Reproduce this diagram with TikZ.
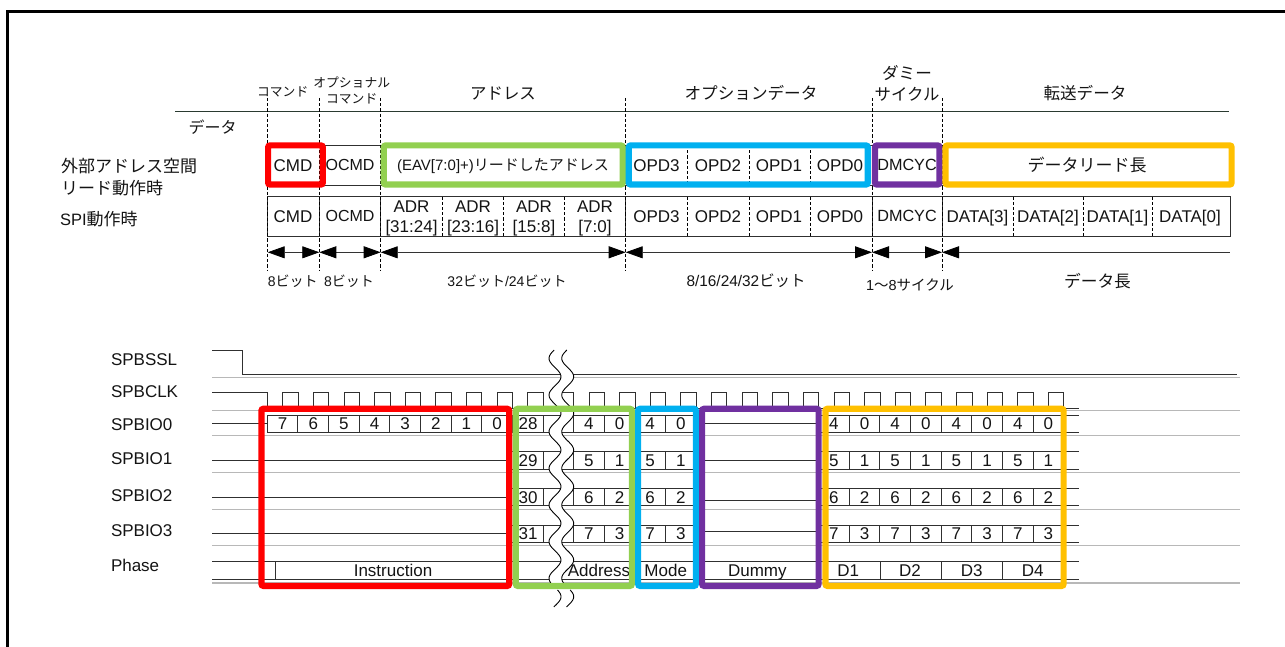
\documentclass[tikz,border=0pt]{standalone}
\usepackage{fontspec}
\setmainfont{Liberation Sans}
\newfontfamily\cjk{Noto Sans CJK JP}
\usetikzlibrary{arrows.meta}
\newcommand{\J}[1]{{\cjk #1}}
\definecolor{cred}{HTML}{FF0000}
\definecolor{cgreen}{HTML}{92D050}
\definecolor{cblue}{HTML}{00B0F0}
\definecolor{cpurple}{HTML}{7030A0}
\definecolor{corange}{HTML}{FFC000}
\definecolor{gridgrey}{HTML}{B8B8B8}
\definecolor{sigline}{HTML}{303030}
\definecolor{toprule}{HTML}{2A3A30}
\tikzset{
  lab/.style={inner sep=0pt,outer sep=0pt,font=\fontsize{#1}{#1}\selectfont,text height=#1*0.72pt,text depth=0pt,text=black!92},
  leftlab/.style={lab=#1,anchor=west},
  frameline/.style={line width=3pt,black},
  sig/.style={line width=0.9pt,sigline},
  grid/.style={line width=1.1pt,gridgrey},
  dashv/.style={line width=1pt,black,dash pattern=on 3.2pt off 2pt},
  dim/.style={line width=0.8pt,black!80,{Triangle[length=17pt,width=12pt,black]}-{Triangle[length=17pt,width=12pt,black]}},
  dimopen/.style={line width=0.8pt,black!80,{Triangle[length=17pt,width=12pt,black]}-},
  hl/.style={line width=6.2pt,rounded corners=2pt,draw=#1},
  wave/.style={line width=0.9pt,black}
}
\pgfmathsetmacro{\xo}{267.3}
\pgfmathsetmacro{\pp}{30.63}
\newcommand{\cellx}[1]{\xo+\pp*#1}
\newcommand{\iocells}[2]{%
  \draw[sig] (512,#1) -- (696,#1) (512,#2) -- (696,#2);
  \draw[sig] (818,#1) -- (1079,#1) (818,#2) -- (1079,#2);
  \foreach \k in {9,10,11,12,13,14,19,20,21,22,23,24,25}{
    \draw[sig] ({\cellx{\k}},#1) -- ({\cellx{\k}},#2);
  }%
}
\begin{document}
\begin{tikzpicture}[x=1pt,y=-1pt]
\useasboundingbox (0,0) rectangle (1285,647);
\fill[white] (0,0) rectangle (1285,647);
\draw[frameline] (7.5,650) -- (7.5,11.5) -- (1290,11.5);

% ---- upper part ----
\coordinate (ruleL) at (175,111.5);
\coordinate (ruleR) at (1229,111.5);
\draw[line width=0.8pt,toprule] (ruleL) -- (ruleR);
\draw[sig] (267.7,145) rectangle (1230,185);
\draw[sig] (267.7,196.7) rectangle (1230,236.7);
\foreach \x in {267.7,319.3,380.7,625.7,872,942}{
  \draw[sig] (\x,196.7) -- (\x,236.7);
}
\foreach \x in {442.3,503.3,564.7,687.6,749,810.6,1013.4,1083,1152}{
  \draw[dashv] (\x,196.7) -- (\x,236.7);
}
\foreach \x in {687.6,749,810.6}{
  \draw[dashv] (\x,145) -- (\x,185);
}
\foreach \n/\x in {a/267.7,b/319.3,c/380.7,d/625.7,e/872,f/942}{
  \coordinate (\n T) at (\x,98);
  \coordinate (\n B) at (\x,270.7);
  \coordinate (\n M) at (\x,252.3);
  \draw[dashv] (\n T) -- (\n B);
}
\coordinate (gM) at (1230,252.3);
\draw[dim] (aM) -- (bM);
\draw[dim] (bM) -- (cM);
\draw[dim] (cM) -- (dM);
\draw[dim] (dM) -- (eM);
\draw[dim] (eM) -- (fM);
\draw[dimopen] (fM) -- (gM);

% header labels
\node[lab=12.8] (hCmd) at (282.7,91.5) {\J{コマンド}};
\node[lab=12.8] (hOpt1) at (351.7,82.5) {\J{オプショナル}};
\node[lab=12.8] (hOpt2) at (351.7,99.3) {\J{コマンド}};
\node[lab=16.4] (hAdr) at (503,93.5) {\J{アドレス}};
\node[lab=16.6] (hOpd) at (751,93.5) {\J{オプションデータ}};
\node[lab=16.6] (hDm1) at (907,74) {\J{ダミー}};
\node[lab=16.4] (hDm2) at (907,95) {\J{サイクル}};
\node[lab=16.6] (hXfr) at (1085,93.5) {\J{転送データ}};
\node[lab=16] (hData) at (212.7,127.7) {\J{データ}};
\node[leftlab=17] (lExt1) at (61,166) {\J{外部アドレス空間}};
\node[leftlab=17] (lExt2) at (61,188) {\J{リード動作時}};
\node[leftlab=16.5] (lSpi) at (60,220) {SPI\J{\fontsize{17}{17}\selectfont 動作時}};

% row 1 texts
\node[lab=17] (r1a) at (293,165) {CMD};
\node[lab=16] (r1b) at (350,165) {OCMD};
\node[lab=15] (r1c) at (503,165) {(EAV[7:0]+)\J{リードしたアドレス}};
\node[lab=17] (r1d) at (656.5,165) {OPD3};
\node[lab=17] (r1e) at (718,165) {OPD2};
\node[lab=17] (r1f) at (779,165) {OPD1};
\node[lab=17] (r1g) at (840,165) {OPD0};
\node[lab=16.2] (r1h) at (907,165) {DMCYC};
\node[lab=17] (r1i) at (1087,165) {\J{データリード長}};

% row 2 texts
\node[lab=17] (r2a) at (293,216) {CMD};
\node[lab=16] (r2b) at (350,216) {OCMD};
\node[lab=17] (r2c1) at (411.5,206) {ADR};
\node[lab=17] (r2c2) at (411.5,226) {[31:24]};
\node[lab=17] (r2d1) at (473,206) {ADR};
\node[lab=17] (r2d2) at (473,226) {[23:16]};
\node[lab=17] (r2e1) at (534,206) {ADR};
\node[lab=17] (r2e2) at (534,226) {[15:8]};
\node[lab=17] (r2f1) at (595,206) {ADR};
\node[lab=17] (r2f2) at (595,226) {[7:0]};
\node[lab=17] (r2g) at (656.5,216) {OPD3};
\node[lab=17] (r2h) at (718,216) {OPD2};
\node[lab=17] (r2i) at (779,216) {OPD1};
\node[lab=17] (r2j) at (840,216) {OPD0};
\node[lab=16.2] (r2k) at (907,216) {DMCYC};
\node[lab=17] (r2l) at (977.5,216) {DATA[3]};
\node[lab=17] (r2m) at (1048,216) {DATA[2]};
\node[lab=17] (r2n) at (1117.5,216) {DATA[1]};
\node[lab=17] (r2o) at (1190,216) {DATA[0]};

% dimension labels
\node[lab=14] (d1) at (292.7,281) {8\J{ビット}};
\node[lab=14] (d2) at (349,281) {8\J{ビット}};
\node[lab=14] (d3) at (507,281) {32\J{ビット}/24\J{ビット}};
\node[lab=15.4] (d4) at (746,281) {8/16/24/32\J{ビット}};
\node[lab=14.5] (d5) at (910,285) {1\J{～}8\J{サイクル}};
\node[lab=16.7] (d6) at (1097.5,281) {\J{データ長}};

% ---- lower part ----
\foreach \y in {377.3,410.7,435.7,472.3,509.3,545.7,583}{
  \draw[grid] (212.3,\y) -- (1239.5,\y);
}
\node[leftlab=17] (sSsl) at (111,359) {SPBSSL};
\node[leftlab=17] (sClk) at (111,391) {SPBCLK};
\node[leftlab=17] (sIo0) at (111,424) {SPBIO0};
\node[leftlab=17] (sIo1) at (111,458) {SPBIO1};
\node[leftlab=17] (sIo2) at (111,495) {SPBIO2};
\node[leftlab=17] (sIo3) at (111,530) {SPBIO3};
\node[leftlab=17] (sPh) at (111,565) {Phase};

% SPBSSL
\draw[sig] (212.3,350) -- (242.7,350) -- (242.7,374.3) -- (1236.7,374.3);
% SPBCLK
\draw[sig] (212.3,392.7) -- (267.3,392.7) -- (267.3,408.3) -- (1079,408.3);
\foreach \k in {0,...,25}{
  \pgfmathsetmacro{\xa}{282.7+\pp*\k}
  \pgfmathsetmacro{\xb}{\xa+15.4}
  \draw[sig] (\xa,408.3) -- (\xa,392.7) -- (\xb,392.7) -- (\xb,408.3);
}
% IO lines
\draw[sig] (212.3,423.7) -- (267.3,423.7);
\draw[sig] (267.3,415.3) rectangle (512,432.7);
\foreach \k in {1,...,8}{
  \draw[sig] ({\cellx{\k}},415.3) -- ({\cellx{\k}},432.7);
}
\draw[sig] (212.3,460.3) -- (512,460.3);
\draw[sig] (212.3,497) -- (512,497);
\draw[sig] (212.3,533.7) -- (512,533.7);
\draw[sig] (696,423.3) -- (818,423.3);
\draw[sig] (696,460.3) -- (818,460.3);
\draw[sig] (696,500.3) -- (818,500.3);
\draw[sig] (696,531) -- (818,531);
\iocells{415.3}{432.7}
\iocells{451.7}{469}
\iocells{488.3}{505.7}
\iocells{525}{542.3}
% Phase
\draw[sig] (212.3,561.3) -- (1079,561.3);
\draw[sig] (212.3,579.3) -- (1079,579.3);
\foreach \x in {275,880,941.3,1002.7}{
  \draw[sig] (\x,561.3) -- (\x,579.3);
}

% Wave break
\fill[white] plot[domain=350:583,samples=120] ({555+6*sin((\x-367.5)*9.818)},\x)
  -- plot[domain=583:350,samples=120] ({567.7+6*sin((\x-367.5)*9.818)},\x) -- cycle;
\draw[wave] plot[domain=350:583,samples=120] ({555+6*sin((\x-367.5)*9.818)},\x);
\draw[wave] plot[domain=350:583,samples=120] ({567.7+6*sin((\x-367.5)*9.818)},\x);
\draw[wave] plot[domain=590:607,samples=20] ({555+6*sin((\x-367.5)*9.818)},\x);
\draw[wave] plot[domain=590:607,samples=20] ({567.7+6*sin((\x-367.5)*9.818)},\x);

% digits
\foreach \k/\d in {0/7,1/6,2/5,3/4,4/3,5/2,6/1,7/0}{
  \node[lab=17] (dA\k) at ({\cellx{\k}+15.3},423.7) {\d};
}
\foreach \yy/\r/\hi/\lo/\top in {423.7/0/4/0/28,460.3/1/5/1/29,497/2/6/2/30,533.7/3/7/3/31}{
  \node[lab=17] (dT\r) at (528,\yy) {\top};
  \foreach \k in {10,12,18,20,22,24}{
    \node[lab=17] (dH\r\k) at ({\cellx{\k}+15.3},\yy) {\hi};
  }
  \foreach \k in {11,13,19,21,23,25}{
    \node[lab=17] (dL\r\k) at ({\cellx{\k}+15.3},\yy) {\lo};
  }
}
% phase labels
\node[lab=17] (pI) at (393,570.5) {Instruction};
\node[lab=17] (pA) at (599,570.5) {Address};
\node[lab=17] (pM) at (665.7,570.5) {Mode};
\node[lab=17] (pDu) at (757.3,570.5) {Dummy};
\node[lab=17] (pD1) at (848.3,570.5) {D1};
\node[lab=17] (pD2) at (910,570.5) {D2};
\node[lab=17] (pD3) at (971.7,570.5) {D3};
\node[lab=17] (pD4) at (1032.7,570.5) {D4};

% highlight boxes, upper
\draw[hl=cred] (268.1,145.4) rectangle (322.8,184.6);
\draw[hl=cgreen] (383.8,145.4) rectangle (622.8,184.6);
\draw[hl=cblue] (628.8,145.4) rectangle (867.8,184.6);
\draw[hl=cpurple] (875,145.4) rectangle (939.5,184.6);
\draw[hl=corange] (945.5,145.4) rectangle (1231.6,184.6);
% highlight boxes, lower
\draw[hl=cred] (261.4,408.8) rectangle (509.2,585.9);
\draw[hl=cgreen] (515.8,408.8) rectangle (631.9,585.9);
\draw[hl=cblue] (638.1,408.8) rectangle (695.9,585.9);
\draw[hl=cpurple] (702.1,408.8) rectangle (818.6,585.9);
\draw[hl=corange] (825.4,408.8) rectangle (1063.6,585.9);
\end{tikzpicture}
\end{document}
